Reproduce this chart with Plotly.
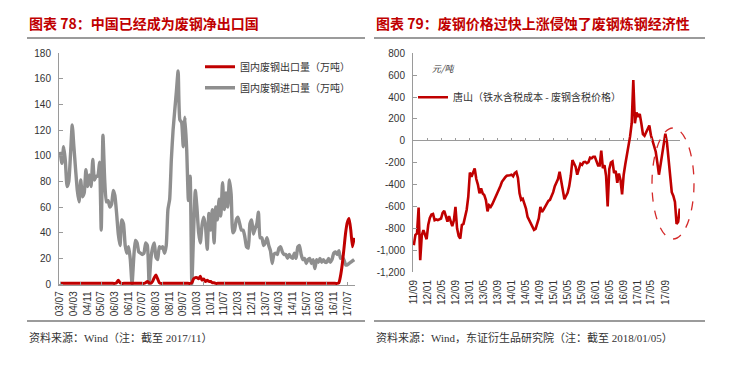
import pandas as pd
import plotly.graph_objects as go

W, H = 734, 370


def fx(x):
    return x / W


def fy(y):
    return 1 - y / H


# ---------------- data: left panel (monthly, 2003/07 - 2017/11) ----------------
left_months = pd.date_range("2003-07-01", "2017-11-01", freq="MS")

imports = [
    103, 94, 107, 96, 76, 80, 101, 124,
    107, 89, 73, 64, 81, 68, 71, 89, 76, 85, 76, 97, 81, 84, 84, 95, 42,
    116, 81, 64, 65, 60, 62, 73, 69, 55, 39, 30, 50, 47, 30, 24, 29, 19, 0,
    21, 34, 32, 25, 24, 23, 24, 32, 30, 0,
    19, 28, 32, 21, 19, 29, 28, 29, 24, 30, 58, 66, 97, 120, 136, 150, 166,
    128, 126, 107, 130, 104, 65, 84, 0,
    40, 73, 60, 40, 32, 46, 52, 45, 27, 55, 42, 58, 32, 60, 50, 66, 53, 79,
    58, 71, 60, 81, 70, 40, 42, 50, 52, 47, 42,
    42, 37, 29, 28, 47, 50, 39, 43, 47, 56,
    36, 36, 30, 32, 36, 30, 26, 16, 23, 24,
    23, 28, 29, 25, 23, 23, 20, 23, 21, 20,
    24, 20, 29, 30, 23, 19, 20, 16, 19, 20,
    16, 19, 12, 19, 17, 20, 17, 19, 17, 17,
    20, 17, 19, 24, 25, 23, 26, 20, 21, 19,
    15, 15, 16, 17, 18, 19,
]

exports = [
    0.5, 0.5, 0.5, 0.5, 0.5, 0.5, 0.5, 0.5, 0.5, 0.5,
    0.5, 0.5, 0.5, 0.5, 0.5, 0.5, 0.5, 0.5, 0.5, 0.5,
    0.5, 0.5, 0.5, 0.5, 0.5, 0.5, 0.5, 0.5, 0.5, 0.5,
    0.5, 0.5, 0.5, 1, 3, 1, 0.5, 0.5, 0.5, 0.5,
    0.5, 0.5, 0.5, 0.5, 0.5, 0.5, 0.5, 0.5, 0.5, 0.5,
    1, 2, 1, 0.5, 2, 5, 7, 4, 1, 0.5,
    0.5, 0.5, 0.5, 0.5, 0.5, 0.5, 0.5, 0.5, 0.5, 0.5,
    0.5, 0.5, 0.5, 0.5, 0.5, 0.5, 0.5, 1, 4, 5,
    5, 4, 6, 3, 4, 2, 3, 2, 2, 1,
    1, 0.5, 0.5, 0.5, 0.5, 0.5, 0.5, 0.5, 0.5, 0.5,
    0.5, 0.5, 0.5, 0.5, 0.5, 0.5, 0.5, 0.5, 0.5, 0.5,
    0.5, 0.5, 0.5, 0.5, 0.5, 0.5, 0.5, 0.5, 0.5, 0.5,
    0.5, 0.5, 0.5, 0.5, 0.5, 0.5, 0.5, 0.5, 0.5, 0.5,
    0.5, 0.5, 0.5, 0.5, 0.5, 0.5, 0.5, 0.5, 0.5, 0.5,
    0.5, 0.5, 0.5, 0.5, 0.5, 0.5, 0.5, 0.5, 0.5, 0.5,
    0.5, 0.5, 0.5, 0.5, 0.5, 0.5, 0.5, 0.5, 0.5, 0.5,
    0.5, 0.5, 0.5, 1, 6, 15, 27, 40, 48, 51,
    42, 29, 36,
]

left_tick_dates = pd.date_range("2003-07-01", "2017-07-01", freq="8MS")

# ---------------- data: right panel (2011/09 - 2018/01/05) ----------------
right_dates = pd.date_range("2011-09-02", "2018-01-05", periods=167)

spread = [
    -955, -860, -848, -610, -1092, -863, -818, -870, -900, -770,
    -705, -675, -670, -726, -720, -726, -715, -711, -660, -640,
    -690, -740, -690, -740, -780, -730, -604, -800, -870, -894,
    -770, -760, -690, -630, -512, -290, -329, -290, -253, -350,
    -400, -480, -436, -482, -497, -543, -645, -590, -604, -580,
    -550, -505, -475, -445, -415, -375, -350, -335, -320, -320,
    -315, -310, -325, -295, -285, -340, -480, -540, -530, -575,
    -620, -696, -725, -755, -785, -815, -805, -765, -710, -604,
    -650, -630, -600, -570, -550, -540, -505, -470, -415, -385,
    -350, -284, -380, -470, -535, -505, -475, -415, -320, -177,
    -207, -238, -310, -255, -210, -220, -195, -192, -205, -195,
    -155, -160, -146, -146, -180, -225, -225, -90, -250, -223,
    -320, -600, -260, -200, -190, -295, -275, -385, -300, -358,
    -490, -310, -215, -140, -70, 40, 160, 555, 160, 260,
    220, 245, 160, 60, 45, 78, 100, 140, 50, 0,
    -60, -100, -200, -310, -220, -115, -24, 65, -15, -170,
    -340, -470, -505, -560, -760, -740, -620,
]

right_tick_dates = pd.date_range("2011-09-01", "2017-09-01", freq="4MS")

left_yticks = [0, 20, 40, 60, 80, 100, 120, 140, 160, 180]
right_yticks = [-1200, -1000, -800, -600, -400, -200, 0, 200, 400, 600, 800]
right_yticktext = ["-1,200", "-1,000", "-800", "-600", "-400", "-200", "0",
                   "200", "400", "600", "800"]

left_title = "图表 78：中国已经成为废钢净出口国"
right_title = "图表 79：废钢价格过快上涨侵蚀了废钢炼钢经济性"
left_source = "资料来源：Wind（注：截至 2017/11）"
right_source = "资料来源：Wind，东证衍生品研究院（注：截至 2018/01/05）"
export_name = "国内废钢出口量（万吨）"
import_name = "国内废钢进口量（万吨）"
spread_name = "唐山（铁水含税成本 - 废钢含税价格）"
unit_label = "元/吨"

# ---------------- styles ----------------
RED = "#C00000"
GRAY = "#8F8F8F"
AXIS = "#9A9A9A"
RULE = "#7A7A7A"
TXT = "#333333"
CJK = "Noto Sans CJK SC"
SERIF_MIX = "Liberation Serif, Noto Sans CJK SC"
axis_font = dict(family="Liberation Sans, Arial", size=10, color=TXT)

fig = go.Figure()

# page frame first: divider rules under the titles and above the sources,
# drawn on a hidden full-figure pixel axis (transparent plot background)
rule_x = [27, 365, None, 374, 705, None, 27, 365, None, 374, 705]
rule_y = [38, 38, None, 38, 38, None, 321, 321, None, 321, 321]
fig.add_trace(go.Scatter(
    x=rule_x, y=rule_y, mode="lines", showlegend=False, hoverinfo="skip",
    line=dict(color=RULE, width=1.6), xaxis="x4", yaxis="y4"))

fig.add_trace(go.Scatter(
    x=left_months, y=imports, name=import_name, mode="lines",
    line=dict(color=GRAY, width=3.4, shape="spline", smoothing=0.5),
    xaxis="x", yaxis="y", legend="legend2", hoverinfo="skip"))
fig.add_trace(go.Scatter(
    x=left_months, y=exports, name=export_name, mode="lines",
    line=dict(color=RED, width=3, shape="spline", smoothing=0.5),
    xaxis="x", yaxis="y", legend="legend", hoverinfo="skip"))

fig.add_trace(go.Scatter(
    x=right_dates, y=spread, name=spread_name, mode="lines",
    line=dict(color=RED, width=2.6),
    xaxis="x2", yaxis="y2", legend="legend3", hoverinfo="skip"))
# helper trace so the zero-line tick axis is drawn
fig.add_trace(go.Scatter(
    x=[right_dates[0]], y=[None], mode="lines", showlegend=False,
    xaxis="x3", yaxis="y2", hoverinfo="skip"))

y2_dom = [fy(272), fy(53.3)]
zero_pos = y2_dom[0] + (0 - (-1200)) / 2000 * (y2_dom[1] - y2_dom[0])
x2_range = ["2011-08-26", "2018-01-07"]

fig.update_layout(
    width=W, height=H,
    margin=dict(l=0, r=0, t=0, b=0, pad=0, autoexpand=False),
    paper_bgcolor="white", plot_bgcolor="rgba(0,0,0,0)",
    showlegend=True,
    xaxis=dict(
        domain=[fx(59), fx(355)], anchor="y", type="date",
        range=["2003-06-10", "2017-11-15"], automargin=False,
        tickvals=left_tick_dates, tickformat="%y/%m", tickangle=-90,
        ticks="", showgrid=False, showline=True, linecolor=AXIS, linewidth=1,
        tickfont=axis_font, ticklabelstandoff=1,
        minor=dict(dtick="M12", tick0="2003-07-01", ticks="inside",
                   ticklen=3, tickcolor=AXIS, showgrid=False),
    ),
    yaxis=dict(
        domain=[fy(285.3), fy(53)], anchor="x", range=[-1, 180], automargin=False,
        tickvals=left_yticks, ticks="inside", ticklen=4, tickcolor=AXIS,
        showline=True, linecolor=AXIS, linewidth=1, showgrid=False,
        zeroline=False, tickfont=axis_font, ticklabelstandoff=5,
    ),
    xaxis2=dict(
        domain=[fx(413), fx(680)], anchor="y2", type="date", range=x2_range,
        automargin=False,
        tickvals=right_tick_dates, tickformat="%y/%m", tickangle=-90,
        ticks="", showgrid=False, showline=False,
        tickfont=axis_font, ticklabelstandoff=5,
    ),
    xaxis3=dict(
        overlaying="x2", anchor="free", position=zero_pos, type="date",
        range=x2_range, tickvals=right_tick_dates, automargin=False,
        ticks="inside", ticklen=3, tickcolor=AXIS, showticklabels=False,
        showgrid=False, showline=False, zeroline=False,
    ),
    yaxis2=dict(
        domain=y2_dom, anchor="x2", range=[-1200, 800], automargin=False,
        tickvals=right_yticks, ticktext=right_yticktext,
        ticks="inside", ticklen=4, tickcolor=AXIS,
        showline=True, linecolor=AXIS, linewidth=1, showgrid=False,
        zeroline=True, zerolinecolor=AXIS, zerolinewidth=1,
        tickfont=axis_font, ticklabelstandoff=5,
    ),
    xaxis4=dict(domain=[0, 1], range=[0, W], anchor="y4", visible=False,
                automargin=False, fixedrange=True),
    yaxis4=dict(domain=[0, 1], range=[H, 0], anchor="x4", visible=False,
                automargin=False, fixedrange=True),
    legend=dict(x=fx(200), y=fy(52.2), xanchor="left", yanchor="top",
                bgcolor="rgba(0,0,0,0)", itemwidth=30,
                font=dict(family=SERIF_MIX, size=10, color=TXT)),
    legend2=dict(x=fx(200), y=fy(73.2), xanchor="left", yanchor="top",
                 bgcolor="rgba(0,0,0,0)", itemwidth=30,
                 font=dict(family=SERIF_MIX, size=10, color=TXT)),
    legend3=dict(x=fx(413), y=fy(82.8), xanchor="left", yanchor="top",
                 bgcolor="rgba(0,0,0,0)", itemwidth=30,
                 font=dict(family=CJK, size=10, color=TXT)),
)

annotations = [
    dict(text="<b>" + left_title + "</b>", x=fx(27), y=fy(23),
         font=dict(family=CJK, size=14, color=RED)),
    dict(text="<b>" + right_title + "</b>", x=fx(374), y=fy(23),
         font=dict(family=CJK, size=14, color=RED)),
    dict(text=left_source, x=fx(27), y=fy(337),
         font=dict(family=SERIF_MIX, size=11, color=TXT)),
    dict(text=right_source, x=fx(374), y=fy(337),
         font=dict(family=SERIF_MIX, size=11, color=TXT)),
    dict(text="<i>" + unit_label + "</i>", x=fx(430), y=fy(68),
         font=dict(family=CJK, size=9, color=TXT)),
]
for a in annotations:
    a.update(xref="paper", yref="paper", xanchor="left", yanchor="middle",
             showarrow=False)
fig.update_layout(annotations=annotations)

shapes = [
    dict(type="circle", xref="paper", yref="paper",
         x0=fx(652), x1=fx(694), y0=fy(239), y1=fy(128),
         line=dict(color="#D42A2A", width=1.3, dash="dash")),
]
fig.update_layout(shapes=shapes)

fig.write_html(
    "out.html",
    config={"displayModeBar": False, "staticPlot": True},
    post_script="document.body.style.margin='0';document.body.style.overflow='hidden';",
)
